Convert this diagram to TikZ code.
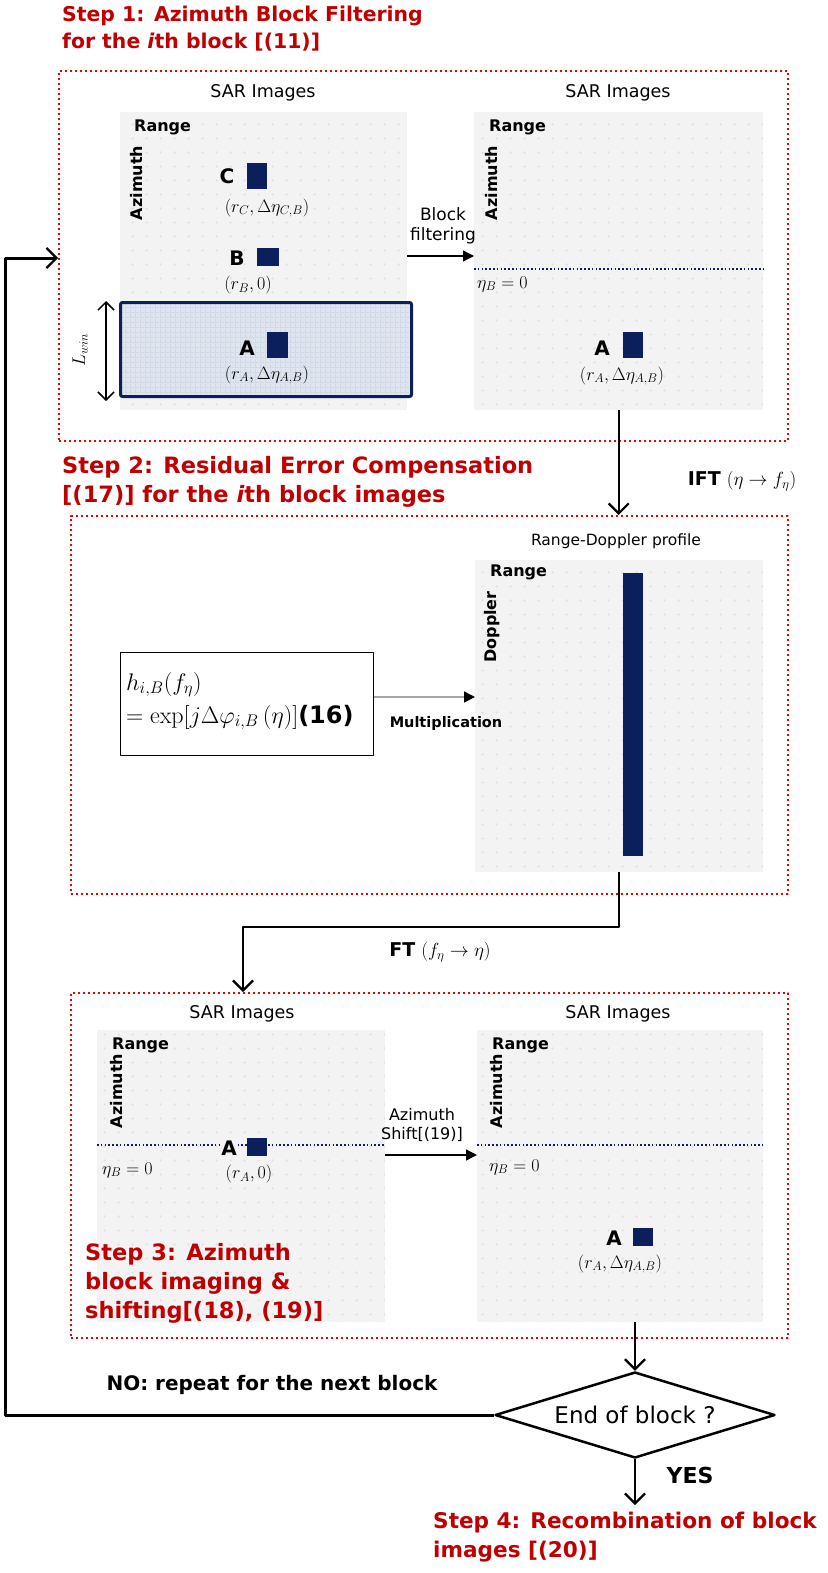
\RequirePackage{fix-cm}
\documentclass[tikz,border=0pt]{standalone}
\usepackage[no-math]{fontspec}
\setmainfont{DejaVu Sans}
\usetikzlibrary{shapes.geometric,arrows.meta,patterns.meta,calc}
\definecolor{stepred}{HTML}{C00000}
\definecolor{boxred}{HTML}{E60000}
\definecolor{navy}{HTML}{0A1F5C}
\definecolor{imggray}{HTML}{F3F3F3}
\definecolor{dotgray}{HTML}{E0E0E0}
\definecolor{blockblue}{HTML}{DFE5EF}
\definecolor{gridblue}{HTML}{CBD4E3}
\tikzdeclarepattern{name=sardots, type=uncolored, bounding box={(0pt,0pt) and (14pt,14pt)}, tile size={(14pt,14pt)}, code={\fill (7pt,7pt) circle (1.3pt);}}
\tikzdeclarepattern{name=finegrid, type=uncolored, bounding box={(0pt,0pt) and (5pt,5pt)}, tile size={(5pt,5pt)}, code={\fill (0pt,0pt) rectangle (5pt,0.6pt); \fill (0pt,0pt) rectangle (0.6pt,5pt);}}
\begin{document}
\begin{tikzpicture}[x=1pt, y=-1pt, line join=round,
  title/.style={text=stepred, anchor=north west, inner sep=0pt, align=left, font=\fontsize{22.5}{29}\selectfont\bfseries},
  panel/.style={draw=boxred, line width=2.2pt, dash pattern=on 2.2pt off 2.8pt, anchor=north west, inner sep=0pt},
  img/.style={anchor=north west, inner sep=0pt, preaction={fill=imggray}, pattern=sardots, pattern color=dotgray},
  sar/.style={font=\fontsize{17.5}{20}\selectfont, inner sep=0pt},
  axislbl/.style={font=\fontsize{16}{18}\selectfont\bfseries, inner sep=0pt},
  tgt/.style={fill=navy, anchor=north west, inner sep=0pt},
  ltr/.style={font=\fontsize{20}{20}\selectfont\bfseries, inner sep=0pt},
  crd/.style={font=\fontsize{18}{18}\selectfont, inner sep=0pt},
  flow/.style={line width=2.2pt, -{Straight Barb[length=10pt, width=20pt, line width=2.2pt]}},
  tri/.style={line width=1.3pt, -{Triangle[length=11pt, width=11pt]}},
  zero/.style={navy, line width=1.6pt, dash pattern=on 1.6pt off 2.2pt}
]
\useasboundingbox (0,0) rectangle (827,1573);

% ---------- Step 1 ----------
\node[title, font=\fontsize{20.4}{27}\selectfont\bfseries] (t1) at (62,6) {Step 1: Azimuth Block Filtering\\for the \textit{i}th block [(11)]};
\node[panel, minimum width=729pt, minimum height=370pt] (p1) at (58,70) {};

\node[img, minimum width=287pt, minimum height=298pt] (l1) at (120,112) {};
\node[img, minimum width=289pt, minimum height=298pt] (r1) at (474,112) {};
\node[sar] (sarl1) at (263,93) {SAR Images};
\node[sar] (sarr1) at (618,93) {SAR Images};
\node[axislbl, anchor=west] (rgl1) at (134,127) {Range};
\node[axislbl, anchor=west] (rgr1) at (489,127) {Range};
\node[axislbl, rotate=90] (azl1) at (137,183) {Azimuth};
\node[axislbl, rotate=90] (azr1) at (492,183) {Azimuth};

\node[anchor=north west, inner sep=0pt, minimum width=291pt, minimum height=94pt, preaction={fill=blockblue}, pattern=finegrid, pattern color=gridblue, draw=navy, line width=3pt, rounded corners=2pt] (blk) at (119,301) {};

\node[ltr] (lc) at (227,176) {C};
\node[tgt, minimum width=20pt, minimum height=26pt] (sqc) at (247,163) {};
\node[crd] (cc) at (267,208) {$(r_C,\Delta\eta_{C,B})$};
\node[ltr] (lb) at (237,258) {B};
\node[tgt, minimum width=22pt, minimum height=18pt] (sqb) at (257,248) {};
\node[crd] (cb) at (248,285) {$(r_B,0)$};
\node[ltr] (la) at (247,348) {A};
\node[tgt, minimum width=21pt, minimum height=26pt] (sqa) at (267,332) {};
\node[crd] (ca) at (267,375) {$(r_A,\Delta\eta_{A,B})$};

\coordinate (lw1) at (106,301);
\coordinate (lw2) at (106,401);
\draw[line width=1.5pt, {Straight Barb[length=8pt,width=16pt]}-{Straight Barb[length=8pt,width=16pt]}] (lw1) -- (lw2);
\node[crd, rotate=90] (lwin) at (80,350) {$L_{win}$};

\coordinate (z1a) at (474,269);
\coordinate (z1b) at (763,269);
\draw[zero] (z1a) -- (z1b);
\node[crd, anchor=west] (eta1) at (477,284) {$\eta_B=0$};
\node[ltr] (la2) at (602,348) {A};
\node[tgt, minimum width=20pt, minimum height=26pt] (sqa2) at (623,332) {};
\node[crd] (ca2) at (622,376) {$(r_A,\Delta\eta_{A,B})$};

\node[sar, align=center, font=\fontsize{17}{20}\selectfont] (bf) at (443,226) {Block\\filtering};
\coordinate (bfy) at (0,256);
\draw[tri] (l1.east |- bfy) -- (r1.west |- bfy);

% ---------- Step 2 ----------
\node[title] (t2) at (62,456) {Step 2: Residual Error Compensation\\{[}(17){]} for the \textit{i}th block images};
\draw[flow] (r1.south) -- (r1.south |- 0,515);
\node[font=\fontsize{19}{20}\selectfont, inner sep=0pt] (ift) at (742,481) {\textbf{IFT} $(\eta\rightarrow f_\eta)$};
\node[panel, minimum width=717pt, minimum height=378pt] (p2) at (70,515) {};

\node[sar, font=\fontsize{15.5}{18}\selectfont] (rdt) at (616,541) {Range-Doppler profile};
\node[img, minimum width=288pt, minimum height=312pt] (rd) at (475,560) {};
\node[axislbl, anchor=west] (rgrd) at (490,572) {Range};
\node[axislbl, rotate=90] (dop) at (492,627) {Doppler};
\node[tgt, minimum width=20pt, minimum height=283pt] (bar) at (623,573) {};

\node[draw, line width=1pt, anchor=north west, minimum width=253pt, minimum height=103pt, inner sep=0pt] (hbox) at (120,652) {};
\node[anchor=west, align=left, inner sep=0pt, font=\fontsize{24}{33}\selectfont] (hform) at (126,701) {$h_{i,B}(f_\eta)$\\$=\exp\Bigl[j\Delta\varphi_{i,B}\,(\eta)\Bigr]$\textbf{(16)}};
\coordinate (muly) at (0,697);
\draw[gray!70, line width=1.5pt, -{Triangle[length=11pt, width=11pt, black]}] (hbox.east |- muly) -- (rd.west |- muly);
\node[font=\fontsize{14.5}{16}\selectfont\bfseries, inner sep=0pt] (mul) at (446,723) {Multiplication};

% connector to step 3
\coordinate (ftturn) at (0,927);
\coordinate (ftx) at (243,0);
\node[font=\fontsize{19}{20}\selectfont, inner sep=0pt] (ft) at (440,952) {\textbf{FT} $(f_\eta\rightarrow \eta)$};

% ---------- Step 3 ----------
\node[panel, minimum width=717pt, minimum height=345pt] (p3) at (70,992) {};
\draw[flow] (rd.south) |- (ftx |- ftturn) -- (ftx |- p3.north);

\node[img, minimum width=288pt, minimum height=292pt] (l3) at (97,1030) {};
\node[img, minimum width=286pt, minimum height=292pt] (r3) at (477,1030) {};
\node[sar] (sarl3) at (242,1014) {SAR Images};
\node[sar] (sarr3) at (618,1014) {SAR Images};
\node[axislbl, anchor=west] (rgl3) at (112,1045) {Range};
\node[axislbl, anchor=west] (rgr3) at (492,1045) {Range};
\node[axislbl, rotate=90] (azl3) at (117,1091) {Azimuth};
\node[axislbl, rotate=90] (azr3) at (497,1091) {Azimuth};

\coordinate (z3y) at (0,1145);
\draw[zero] (l3.west |- z3y) -- (l3.east |- z3y);
\draw[zero] (r3.west |- z3y) -- (r3.east |- z3y);
\node[crd, anchor=west] (eta3l) at (102,1170) {$\eta_B=0$};
\node[crd, anchor=west] (eta3r) at (489,1167) {$\eta_B=0$};

\node[ltr, fill=imggray, inner sep=1pt] (la3) at (229,1148) {A};
\node[tgt, minimum width=20pt, minimum height=18pt] (sqa3) at (247,1138) {};
\node[crd] (ca3) at (249,1174) {$(r_A,0)$};

\node[ltr] (la4) at (614,1238) {A};
\node[tgt, minimum width=20pt, minimum height=18pt] (sqa4) at (633,1228) {};
\node[crd] (ca4) at (620,1264) {$(r_A,\Delta\eta_{A,B})$};

\node[sar, align=center, font=\fontsize{16}{19}\selectfont] (ash) at (422,1125) {Azimuth\\Shift[(19)]};
\coordinate (asy) at (0,1155);
\draw[tri] (l3.east |- asy) -- (r3.west |- asy);

\node[title] (t3) at (85,1243) {Step 3: Azimuth\\block imaging \&\\shifting[(18), (19)]};

% ---------- decision ----------
\node[diamond, draw, line width=2.5pt, minimum width=280pt, minimum height=86pt, inner sep=0pt, aspect=3.2, font=\fontsize{23}{25}\selectfont] (dia) at (635,1415) {End of block ?};
\draw[flow] (r3.south -| dia.north) -- (dia.north);
\coordinate (yesend) at (635,1505);
\draw[flow] (dia.south) -- (yesend);
\node[font=\fontsize{22}{24}\selectfont\bfseries, inner sep=0pt] (yes) at (690,1475) {YES};

\coordinate (fbB) at (5,258);
\draw[flow, line width=3pt] (dia.west) -| (fbB) -- (fbB -| p1.west);
\node[font=\fontsize{20}{22}\selectfont\bfseries, inner sep=0pt] (no) at (272,1385) {NO: repeat for the next block};

\node[title, font=\fontsize{21.6}{29}\selectfont\bfseries] (t4) at (433,1512) {Step 4: Recombination of block\\images [(20)]};
\end{tikzpicture}
\end{document}
